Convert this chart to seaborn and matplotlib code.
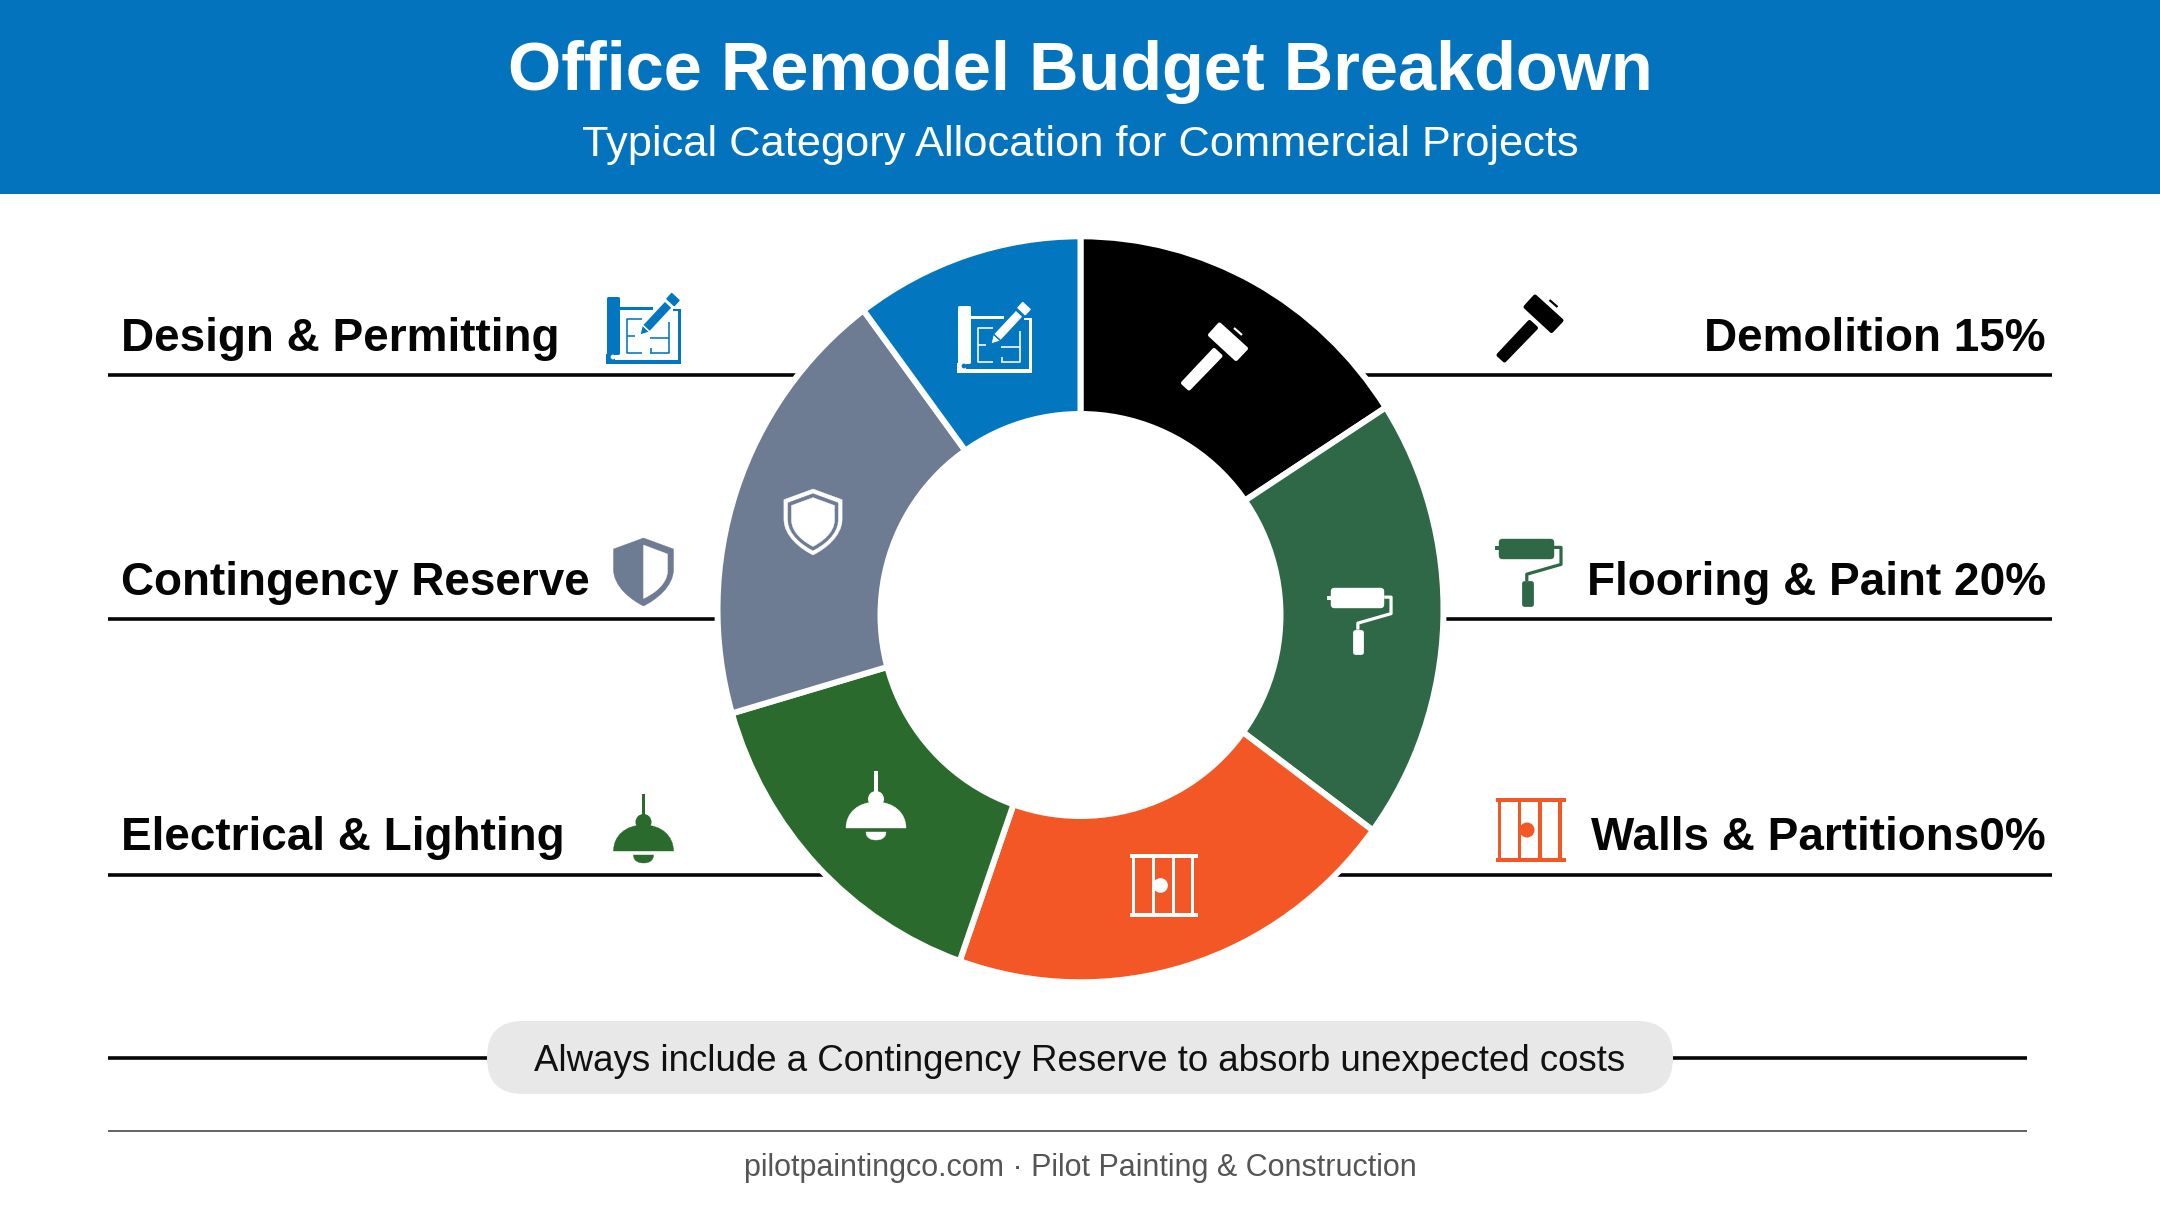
import matplotlib
matplotlib.use("Agg")
import matplotlib.pyplot as plt
import seaborn as sns
from matplotlib.path import Path
from matplotlib.transforms import Affine2D
from matplotlib.patches import PathPatch, FancyBboxPatch, Rectangle, Circle, Ellipse

# ---- data -----------------------------------------------------------------
categories = ["Demolition", "Flooring & Paint", "Walls & Partitions",
              "Electrical & Lighting", "Contingency Reserve", "Design & Permitting"]
shares = [15.9, 19.2, 20.3, 15.1, 19.3, 10.2]   # slice sizes as drawn
slice_colors = ["#000000", "#2F6846", "#F25725", "#2A6A2C", "#6D7B93", "#0276BF"]
left_labels = ["Design & Permitting", "Contingency Reserve", "Electrical & Lighting"]
right_labels = ["Demolition 15%", "Flooring & Paint 20%", "Walls & Partitions0%"]
title = "Office Remodel Budget Breakdown"
subtitle = "Typical Category Allocation for Commercial Projects"
callout = "Always include a Contingency Reserve to absorb unexpected costs"
footer = "pilotpaintingco.com \u00b7 Pilot Painting & Construction"

W, H = 2160, 1206
sns.set_theme(style="white")
plt.rcParams["font.family"] = ["Liberation Sans", "DejaVu Sans"]
palette = sns.color_palette(slice_colors)
BLUE, INK = "#0273BC", "#050505"

fig = plt.figure(figsize=(W / 100, H / 100), dpi=100, facecolor="white")
ax = fig.add_axes([0, 0, 1, 1])
Y = lambda y: H - y
PX = 0.72  # points per pixel


def fit(t, width):
    r = fig.canvas.get_renderer()
    t.set_fontsize(t.get_fontsize() * width / t.get_window_extent(r).width)
    return t


# ---- ring (the source ring is slightly taller than wide) ------------------------
wedges, _ = ax.pie(shares, colors=palette, startangle=90, counterclock=False, radius=1,
                   wedgeprops=dict(edgecolor="white", linewidth=6 * PX, zorder=3))
ring_tf = Affine2D().scale(363, 373).translate(1080.5, Y(609.3)) + ax.transData
for w in wedges:
    w.set_transform(ring_tf)
ax.add_patch(Ellipse((1080.5, Y(615)), 2 * 203, 2 * 204, fc="white", ec="none", zorder=3.5))
ax.set_aspect("auto")
ax.set_xlim(0, W)
ax.set_ylim(0, H)
ax.axis("off")

# ---- header ---------------------------------------------------------------
ax.add_patch(Rectangle((0, Y(194)), W, 194, fc=BLUE, ec="none", zorder=1))
fit(ax.text(W / 2, Y(90.5), title, color="white", weight="bold", fontsize=46,
            ha="center", va="baseline", zorder=2), 1145)
fit(ax.text(W / 2, Y(156), subtitle, color="white", fontsize=30,
            ha="center", va="baseline", zorder=2), 993)

# ---- rules behind the ring ---------------------------------------------------
for y in (375, 619, 875):
    ax.plot([108, 2052], [Y(y), Y(y)], color=INK, lw=3.6 * PX, solid_capstyle="butt", zorder=2)


# ---- icons (local pixels, origin at the icon centre, y down) -------------------
class Icon:
    def __init__(self, cx, cy, s=1.0, z=5):
        self.cx, self.cy, self.s, self.z = cx, cy, s, z

    def pt(self, p):
        return (self.cx + self.s * p[0], Y(self.cy + self.s * p[1]))

    def poly(self, pts, fc, ec=None, lw=0.0):
        v = [self.pt(p) for p in pts] + [self.pt(pts[0])]
        c = [Path.MOVETO] + [Path.LINETO] * (len(pts) - 1) + [Path.CLOSEPOLY]
        ax.add_patch(PathPatch(Path(v, c), fc=fc, ec=ec or fc, lw=lw * PX,
                               joinstyle="round", zorder=self.z))

    def rect(self, x0, y0, x1, y1, fc, rnd=0.0):
        self.poly([(x0, y0), (x1, y0), (x1, y1), (x0, y1)], fc, lw=rnd * 2)

    def curve(self, verts, codes, fc):
        ax.add_patch(PathPatch(Path([self.pt(v) for v in verts], codes), fc=fc, ec=fc,
                               lw=0.3, zorder=self.z))

    def line(self, pts, fc, lw):
        xs, ys = zip(*[self.pt(p) for p in pts])
        ax.plot(xs, ys, color=fc, lw=lw * PX, solid_capstyle="butt",
                solid_joinstyle="round", zorder=self.z)


def hammer(i, fg, bg):
    i.poly([(4.5, -31.5), (31, -7.5), (21, 3), (-5, -21)], fg, lw=4)
    i.poly([(-1, -6), (5.5, 0), (-26, 32.5), (-32, 27)], fg, lw=4)
    i.line([(19, -28), (27, -21)], fg, 2.2)


def roller(i, fg, bg):
    i.rect(-27, -30.5, 22, -16.5, fg, 3.2)
    i.rect(-34.5, -26, -30, -23, fg, 0.5)
    i.line([(25, -24.6), (32, -24.6), (32, -7.6), (-2.2, 2.2), (-2.2, 9)], fg, 3.2)
    i.rect(-5.5, 11, 1.5, 32, fg, 2.4)


SH = [Path.MOVETO, Path.LINETO, Path.LINETO, Path.CURVE4, Path.CURVE4, Path.CURVE4,
      Path.CURVE4, Path.CURVE4, Path.CURVE4, Path.LINETO, Path.CLOSEPOLY]


def shield_verts(k):
    v = [(0, -34), (30, -23), (30, -3), (30, 15), (12, 28), (0, 34),
         (-12, 28), (-30, 15), (-30, -3), (-30, -23), (0, -34)]
    return [(x * k, y * k) for x, y in v]


def shield_half(i, fg, bg):
    i.curve(shield_verts(1.0), SH, fg)
    v = [(0, -27), (24, -18), (24, -1), (24, 12), (10, 22), (0, 26.5), (0, -27)]
    c = [Path.MOVETO, Path.LINETO, Path.LINETO, Path.CURVE4, Path.CURVE4, Path.CURVE4, Path.CLOSEPOLY]
    i.curve(v, c, bg)


def shield_ring(i, fg, bg):
    i.curve(shield_verts(1.0), SH, fg)
    i.curve(shield_verts(0.86), SH, bg)
    i.curve(shield_verts(0.74), SH, fg)


def lamp(i, fg, bg):
    i.rect(-1.8, -34, 1.8, -10, fg)
    ax.add_patch(Circle(i.pt((0, -6)), 8 * i.s, fc=fg, ec="none", zorder=i.z))
    c = [Path.MOVETO] + [Path.CURVE4] * 6 + [Path.CLOSEPOLY]
    i.curve([(-30, 23), (-30, 8), (-18, -3), (0, -3), (18, -3), (30, 8), (30, 23), (-30, 23)], c, fg)
    i.curve([(-10, 27), (-10, 33), (-5, 35), (0, 35), (5, 35), (10, 33), (10, 27), (-10, 27)], c, fg)


def walls(i, fg, bg):
    i.rect(-35, -32, 35, -28, fg)
    i.rect(-35, 28, 35, 32, fg)
    for x in (-31, -11, 9.5, 29.5):
        i.rect(x - 1.6, -28, x + 1.6, 28, fg)
    ax.add_patch(Circle(i.pt((-3.5, 0)), 7.5 * i.s, fc=fg, ec="none", zorder=i.z))


def blueprint(i, fg, bg):
    i.rect(-35.5, -30, -25.5, 25, fg, 1.5)
    i.rect(-37.5, 26, -28, 35.5, fg)
    i.rect(-37.5, 32, 37.5, 35.5, fg)
    i.rect(35, -19, 37.5, 35.5, fg)
    i.rect(30, -19.5, 37.5, -17.5, fg)
    i.rect(-25, -21, 10, -18.5, fg)
    ax.add_patch(Circle(i.pt((-30, 29)), 2.4 * i.s, fc=bg, ec="none", zorder=i.z + 0.1))
    for seg in ([(-1, -9), (-16.5, -9), (-16.5, 24.5), (-1, 24.5)], [(-16.5, 8), (-8, 8)],
                [(7, 10), (26, 10)], [(26, -6), (26, 24.5), (7, 24.5)], [(8, 20), (8, 24.5)]):
        i.line(seg, fg, 1.6)
    i.poly([(-3, 7), (6.8, 3.8), (-0.6, -3)], fg, ec=bg, lw=1.0)
    i.poly([(6.8, 3.8), (29.2, -20.3), (21.9, -27.1), (-0.6, -3)], fg, ec=bg, lw=1.5)
    i.poly([(31.2, -22.4), (24, -29.2), (28.7, -34.4), (36, -27.6)], fg, lw=1.5)


WHITE = "white"
outer = [(blueprint, 643, 328, palette[5]), (shield_half, 643.5, 572, palette[4]),
         (lamp, 643.5, 828, palette[3]), (hammer, 1530.5, 328, palette[0]),
         (roller, 1529, 572, palette[1]), (walls, 1530.5, 830, palette[2])]
for fn, cx, cy, col in outer:
    fn(Icon(cx, cy), col, WHITE)
inner = [(blueprint, 994, 337, palette[5], 1.0), (shield_ring, 813, 522, palette[4], 0.97),
         (lamp, 876, 805, palette[3], 1.0), (hammer, 1215, 356, palette[0], 1.0),
         (roller, 1360, 621, palette[1], 0.97), (walls, 1164, 885.5, palette[2], 0.98)]
for fn, cx, cy, col, s in inner:
    fn(Icon(cx, cy, s), WHITE, col)

# ---- row labels ---------------------------------------------------------------
t0 = fit(ax.text(121, Y(351), left_labels[0], color=INK, weight="bold", fontsize=33,
                 ha="left", va="baseline", zorder=6), 439)
size = t0.get_fontsize()
for lab, b in zip(left_labels[1:], (595, 850.5)):
    ax.text(121, Y(b), lab, color=INK, weight="bold", fontsize=size, ha="left", va="baseline", zorder=6)
for lab, b in zip(right_labels, (351, 595, 850.5)):
    ax.text(2046, Y(b), lab, color=INK, weight="bold", fontsize=size, ha="right", va="baseline", zorder=6)

# ---- callout and footer -------------------------------------------------------
ax.plot([108, 2027], [Y(1058), Y(1058)], color=INK, lw=3.6 * PX, solid_capstyle="butt", zorder=2)
ax.add_patch(FancyBboxPatch((487 + 36, Y(1094) + 36), 1186 - 72, 73 - 72,
                            boxstyle="round,pad=36", fc="#E8E8E8", ec="none", zorder=3))
fit(ax.text(W / 2, Y(1071), callout, color="#111111", fontsize=24,
            ha="center", va="baseline", zorder=4), 1090)
ax.plot([108, 2027], [Y(1131), Y(1131)], color="#555555", lw=1.8 * PX, solid_capstyle="butt", zorder=2)
fit(ax.text(W / 2, Y(1176), footer, color="#555555", fontsize=21,
            ha="center", va="baseline", zorder=4), 675)

fig.savefig("out.png", dpi=100, facecolor="white")
